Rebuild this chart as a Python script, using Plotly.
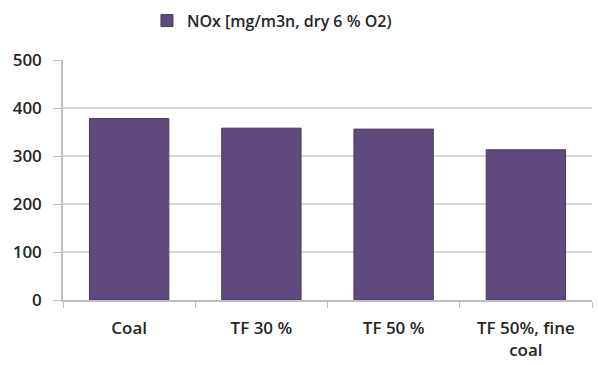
import plotly.graph_objects as go

categories = ["Coal", "TF 30 %", "TF 50 %", "TF 50%, fine<br>coal"]
nox_values = [378, 358, 356, 313]
series_name = "NOx [mg/m3n, dry 6 % O2)"
y_ticks = [0, 100, 200, 300, 400, 500]

font_family = "Open Sans, Liberation Sans, sans-serif"
text_color = "#262626"

fig = go.Figure()
fig.add_trace(go.Bar(
    x=categories,
    y=nox_values,
    name=series_name,
    marker=dict(color="#5E4A7D", line=dict(color="#4A3A63", width=1)),
    showlegend=True,
))

fig.update_layout(
    width=598,
    height=365,
    margin=dict(l=63, r=6, t=60, b=65),
    paper_bgcolor="white",
    plot_bgcolor="white",
    bargap=0.4,
    font=dict(family=font_family, size=17, color=text_color, weight=600),
    showlegend=True,
    legend=dict(
        orientation="h",
        x=0.395, xanchor="center",
        y=0.99, yanchor="top",
        yref="container",
        font=dict(size=16, weight=600),
        itemwidth=30,
    ),
)

fig.update_xaxes(
    type="category",
    automargin=False,
    showline=True, linecolor="#BFBFBF", linewidth=1.5,
    ticks="outside", tickson="boundaries", ticklen=6, tickcolor="#BFBFBF",
    showgrid=False,
    tickfont=dict(size=17, weight=600),
    ticklabelstandoff=12,
)
fig.update_yaxes(
    range=[0, 500],
    automargin=False,
    tickvals=y_ticks,
    showline=True, linecolor="#BFBFBF", linewidth=1.5,
    ticks="outside", ticklen=8, tickcolor="#BFBFBF",
    showgrid=True, gridcolor="#D9D9D9", gridwidth=1.5,
    tickfont=dict(size=17, weight=600),
    ticklabelstandoff=8,
    zeroline=False,
)

fig.write_html("out.html")
